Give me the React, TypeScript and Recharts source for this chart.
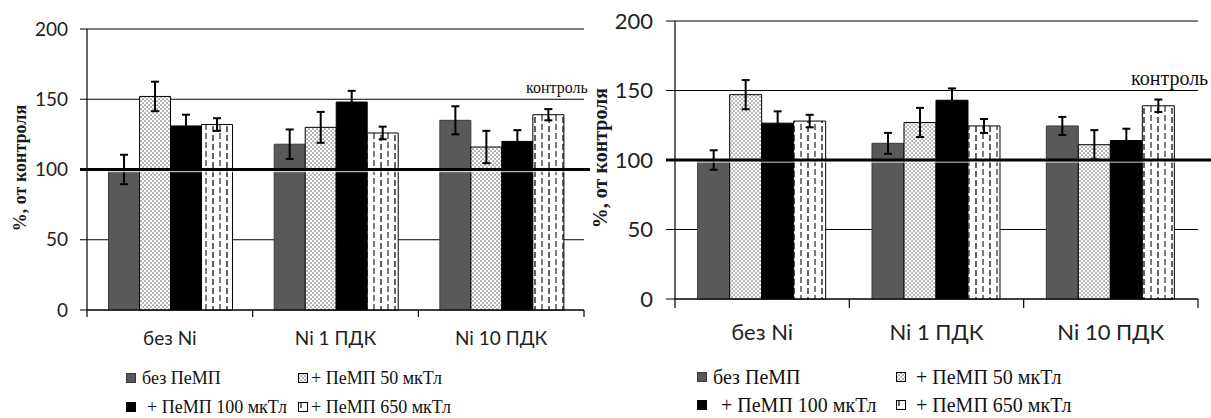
import React from "react";
import {
  BarChart,
  Bar,
  XAxis,
  YAxis,
  CartesianGrid,
  ErrorBar,
  ReferenceLine,
} from "recharts";

const categories = ["без Ni", "Ni 1 ПДК", "Ni 10 ПДК"];
const seriesNames = [
  "без ПеМП",
  "+ ПеМП 50 мкТл",
  "+ ПеМП 100 мкТл",
  "+ ПеМП 650 мкТл",
];
const yTicks = [0, 50, 100, 150, 200];
const controlLevel = 100;
const yAxisTitle = "%, от контроля";
const controlLabel = "контроль";

// left panel
const leftNoField = [100, 118, 135];
const left50 = [152, 130, 116];
const left100 = [131, 148, 120];
const left650 = [132, 126, 139];
const leftNoFieldErr = [10.5, 10.5, 10];
const left50Err = [10.5, 11, 11.5];
const left100Err = [8, 8, 8];
const left650Err = [4.5, 4.5, 4];

// right panel
const rightNoField = [100, 112, 124.5];
const right50 = [147, 127, 111];
const right100 = [126.5, 143, 114];
const right650 = [128, 124.5, 139];
const rightNoFieldErr = [7, 7.5, 6.5];
const right50Err = [10.5, 10.5, 10.5];
const right100Err = [8.5, 8.5, 8.5];
const right650Err = [4.5, 5, 4.5];

const buildRows = (vals: number[][], errs: number[][]) =>
  categories.map((name, i) => ({
    name,
    s0: vals[0][i],
    s1: vals[1][i],
    s2: vals[2][i],
    s3: vals[3][i],
    e0: errs[0][i],
    e1: errs[1][i],
    e2: errs[2][i],
    e3: errs[3][i],
  }));

const leftRows = buildRows(
  [leftNoField, left50, left100, left650],
  [leftNoFieldErr, left50Err, left100Err, left650Err]
);
const rightRows = buildRows(
  [rightNoField, right50, right100, right650],
  [rightNoFieldErr, right50Err, right100Err, right650Err]
);

const SANS = "Lato, 'Open Sans', sans-serif";
const SERIF = "'Liberation Serif', 'DejaVu Serif', serif";

function Patterns({ id }: { id: string }) {
  return (
    <defs>
      <pattern id={`${id}-dots`} patternUnits="userSpaceOnUse" width="4" height="4">
        <rect width="4" height="4" fill="#fff" />
        <rect x="0.4" y="0.4" width="1.3" height="1.3" fill="#555" />
        <rect x="2.4" y="2.4" width="1.3" height="1.3" fill="#555" />
      </pattern>
      <pattern id={`${id}-dash`} patternUnits="userSpaceOnUse" width="14" height="18">
        <rect width="14" height="18" fill="#fff" />
        <line x1="3" x2="3" y1="0" y2="6" stroke="#222" strokeWidth="1.4" />
        <line x1="3" x2="3" y1="9" y2="15" stroke="#222" strokeWidth="1.4" />
        <line x1="10" x2="10" y1="-2" y2="4" stroke="#444" strokeWidth="1.4" />
        <line x1="10" x2="10" y1="7" y2="13" stroke="#444" strokeWidth="1.4" />
        <line x1="10" x2="10" y1="16" y2="22" stroke="#444" strokeWidth="1.4" />
      </pattern>
    </defs>
  );
}

const fillsFor = (id: string) => ["#595959", `url(#${id}-dots)`, "#000", `url(#${id}-dash)`];
const strokes = ["#3a3a3a", "#000", "#000", "#000"];

function CategoryTick(p: any) {
  const { x, y, payload, index, fs, dy, len, half } = p;
  return (
    <g>
      <line x1={x - half} x2={x - half} y1={y} y2={y + len} stroke="#000" strokeWidth={1.2} />
      {index === categories.length - 1 && (
        <line x1={x + half} x2={x + half} y1={y} y2={y + len} stroke="#000" strokeWidth={1.2} />
      )}
      <text x={x} y={y + dy} textAnchor="middle" fontSize={fs} fontFamily={SANS} fill="#222">
        {payload.value}
      </text>
    </g>
  );
}

interface PanelProps {
  id: string;
  rows: any[];
  left: number;
  width: number;
  top: number;
  bottom: number;
  right: number;
  yWidth: number;
  tickFs: number;
  tickSize: number;
  tickMargin: number;
  catFs: number;
  catDy: number;
  lineExtRight: number;
}

function Panel(p: PanelProps) {
  const height = 418;
  const xAxisH = 30;
  const plotW = p.width - p.yWidth - p.right;
  const half = plotW / categories.length / 2;
  const fills = fillsFor(p.id);
  return (
    <div style={{ position: "absolute", left: p.left, top: 0 }}>
      <BarChart
        width={p.width}
        height={height}
        data={p.rows}
        margin={{ top: p.top, right: p.right, left: 0, bottom: height - p.bottom - xAxisH }}
        barCategoryGap="13%"
        barGap={0}
      >
        <Patterns id={p.id} />
        <CartesianGrid vertical={false} stroke="#000" strokeWidth={1} />
        <XAxis
          dataKey="name"
          height={xAxisH}
          axisLine={{ stroke: "#000", strokeWidth: 1.2 }}
          tickLine={false}
          tickSize={0}
          tickMargin={0}
          interval={0}
          tick={(t: any) => (
            <CategoryTick {...t} fs={p.catFs} dy={p.catDy} len={p.tickSize} half={half} />
          )}
        />
        <YAxis
          width={p.yWidth}
          domain={[0, 200]}
          ticks={yTicks}
          interval={0}
          axisLine={{ stroke: "#000", strokeWidth: 1.2 }}
          tickLine={{ stroke: "#000" }}
          tickSize={p.tickSize}
          tickMargin={p.tickMargin}
          tick={{ fontSize: p.tickFs, fontFamily: SANS, fill: "#222" }}
        />
        {["s0", "s1", "s2", "s3"].map((k, i) => (
          <Bar
            key={k}
            dataKey={k}
            name={seriesNames[i]}
            fill={fills[i]}
            stroke={strokes[i]}
            strokeWidth={1}
            isAnimationActive={false}
          >
            <ErrorBar
              dataKey={`e${i}`}
              width={4}
              stroke="#000"
              strokeWidth={2}
              isAnimationActive={false}
            />
          </Bar>
        ))}
        <ReferenceLine
          y={controlLevel}
          shape={(s: any) => (
            <g>
              <line
                x1={s.x1 - p.tickSize}
                x2={s.x2 + p.lineExtRight}
                y1={s.y1 + 2}
                y2={s.y2 + 2}
                stroke="#fff"
                strokeWidth={1.5}
                opacity={0.7}
              />
              <line
                x1={s.x1 - p.tickSize}
                x2={s.x2 + p.lineExtRight}
                y1={s.y1}
                y2={s.y2}
                stroke="#000"
                strokeWidth={3}
              />
            </g>
          )}
        />
      </BarChart>
    </div>
  );
}

function Marker({ id, i }: { id: string; i: number }) {
  return (
    <svg width={10} height={10} style={{ display: "block", flex: "none" }}>
      <rect x={0.5} y={0.5} width={9} height={9} fill={fillsFor(id)[i]} stroke={strokes[i]} />
    </svg>
  );
}

interface LegendProps {
  id: string;
  cols: number[];
  rowsTop: number[];
  fs: number;
  gaps: number[];
}

function LegendBlock({ id, cols, rowsTop, fs, gaps }: LegendProps) {
  return (
    <>
      {seriesNames.map((n, i) => (
        <div
          key={n}
          style={{
            position: "absolute",
            left: cols[i % 2],
            top: rowsTop[Math.floor(i / 2)],
            display: "flex",
            alignItems: "center",
            fontFamily: SERIF,
            fontSize: fs,
            lineHeight: `${fs}px`,
            color: "#111",
            whiteSpace: "nowrap",
          }}
        >
          <Marker id={id} i={i} />
          <span style={{ marginLeft: gaps[i] }}>{n}</span>
        </div>
      ))}
    </>
  );
}

function AxisTitle({ cx, cy, fs }: { cx: number; cy: number; fs: number }) {
  return (
    <div
      style={{
        position: "absolute",
        left: cx,
        top: cy,
        transform: "translate(-50%, -50%) rotate(-90deg)",
        fontFamily: SERIF,
        fontWeight: 700,
        fontSize: fs,
        lineHeight: 1,
        color: "#1a1a1a",
        whiteSpace: "nowrap",
      }}
    >
      {yAxisTitle}
    </div>
  );
}

export default function App() {
  return (
    <div
      style={{
        position: "absolute",
        left: 0,
        top: 0,
        width: 1211,
        height: 418,
        overflow: "hidden",
        background: "#fff",
      }}
    >
      <Panel
        id="l"
        rows={leftRows}
        left={0}
        width={595}
        top={29}
        bottom={310}
        right={11}
        yWidth={87}
        tickFs={19}
        tickSize={7}
        tickMargin={12}
        catFs={19}
        catDy={35}
        lineExtRight={6}
      />
      <Panel
        id="r"
        rows={rightRows}
        left={595}
        width={616}
        top={21}
        bottom={299}
        right={13}
        yWidth={80}
        tickFs={22}
        tickSize={9}
        tickMargin={13}
        catFs={22}
        catDy={41}
        lineExtRight={20}
      />
      <AxisTitle cx={20} cy={168} fs={18} />
      <AxisTitle cx={600} cy={158} fs={20} />
      <div
        style={{
          position: "absolute",
          left: 526,
          top: 80,
          fontFamily: SERIF,
          fontSize: 16,
          lineHeight: 1,
          color: "#111",
          whiteSpace: "nowrap",
        }}
      >
        {controlLabel}
      </div>
      <div
        style={{
          position: "absolute",
          left: 1131,
          top: 68,
          fontFamily: SERIF,
          fontSize: 20,
          lineHeight: 1,
          color: "#111",
          whiteSpace: "nowrap",
        }}
      >
        {controlLabel}
      </div>
      <LegendBlock id="l" cols={[126, 298]} rowsTop={[369, 398]} fs={18} gaps={[6, 3, 11, 3]} />
      <LegendBlock id="r" cols={[697, 896]} rowsTop={[367, 395]} fs={20} gaps={[6, 10, 14, 10]} />
    </div>
  );
}
